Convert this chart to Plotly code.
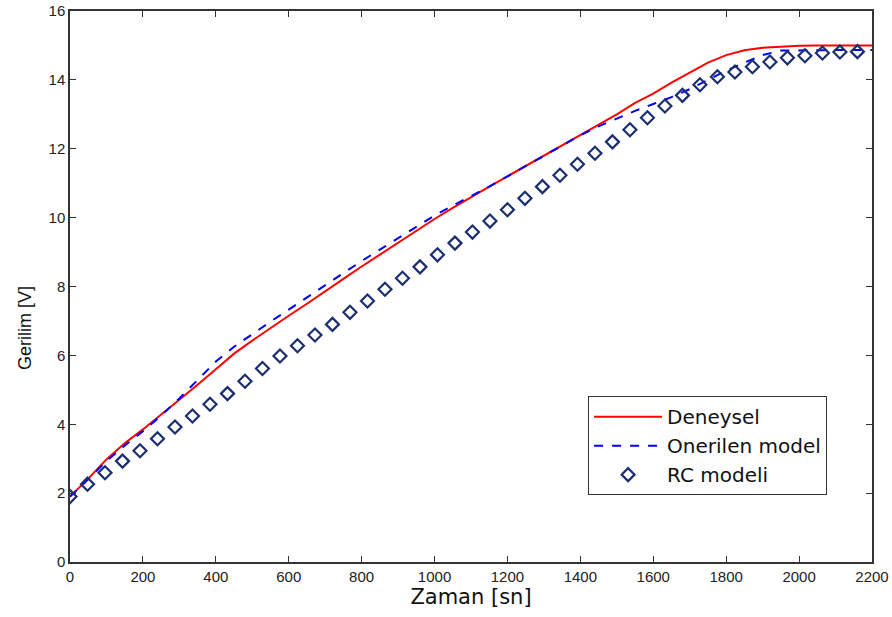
import plotly.graph_objects as go

# Line data (time in s, voltage in V)
t_line = [0, 50, 100, 150, 200, 250, 300, 350, 400, 450, 500, 550, 600, 650, 700,
          750, 800, 850, 900, 950, 1000, 1050, 1100, 1150, 1200, 1250, 1300, 1350,
          1400, 1450, 1500, 1550, 1600, 1650, 1700, 1750, 1800, 1850, 1900, 1950,
          2000, 2050, 2100, 2150, 2200]

deneysel = [1.90, 2.42, 2.98, 3.45, 3.85, 4.28, 4.72, 5.15, 5.60, 6.05, 6.43, 6.80,
            7.15, 7.50, 7.87, 8.22, 8.58, 8.93, 9.28, 9.63, 9.96, 10.28, 10.60, 10.90,
            11.20, 11.50, 11.80, 12.10, 12.40, 12.70, 13.00, 13.33, 13.60, 13.92, 14.20,
            14.50, 14.72, 14.86, 14.93, 14.97, 14.99, 15.00, 15.00, 15.00, 15.00]

onerilen = [1.90, 2.40, 2.93, 3.38, 3.80, 4.25, 4.75, 5.28, 5.82, 6.25, 6.62, 6.98,
            7.33, 7.68, 8.03, 8.40, 8.74, 9.07, 9.40, 9.73, 10.06, 10.35, 10.62, 10.90,
            11.20, 11.50, 11.80, 12.10, 12.39, 12.65, 12.88, 13.10, 13.30, 13.50, 13.73,
            14.00, 14.27, 14.50, 14.72, 14.85, 14.86, 14.87, 14.87, 14.87, 14.87]

t_rc = [0, 48, 96, 144, 192, 240, 288, 336, 384, 432, 480, 528, 576, 624, 672, 720,
        768, 816, 864, 912, 960, 1008, 1056, 1104, 1152, 1200, 1248, 1296, 1344, 1392,
        1440, 1488, 1536, 1584, 1632, 1680, 1728, 1776, 1824, 1872, 1920, 1968, 2016,
        2064, 2112, 2160]

rc_model = [1.90, 2.26, 2.59, 2.93, 3.23, 3.58, 3.92, 4.24, 4.58, 4.89, 5.25, 5.62,
            5.98, 6.28, 6.59, 6.90, 7.25, 7.58, 7.92, 8.24, 8.57, 8.92, 9.26, 9.58,
            9.90, 10.23, 10.56, 10.90, 11.23, 11.55, 11.87, 12.20, 12.55, 12.90, 13.24,
            13.55, 13.86, 14.09, 14.23, 14.38, 14.52, 14.64, 14.70, 14.78, 14.81, 14.82]

x_ticks = [0, 200, 400, 600, 800, 1000, 1200, 1400, 1600, 1800, 2000, 2200]
y_ticks = [0, 2, 4, 6, 8, 10, 12, 14, 16]

FONT = "Liberation Sans, Arial, sans-serif"
WIDE = "DejaVu Sans, Verdana, sans-serif"
AXC = "#333333"

fig = go.Figure()
fig.add_trace(go.Scatter(x=t_line, y=deneysel, mode="lines", name="Deneysel",
                         line=dict(color="#ff0000", width=2)))
fig.add_trace(go.Scatter(x=t_line, y=onerilen, mode="lines", name="Onerilen model",
                         line=dict(color="#0000ff", width=2, dash="dash")))
fig.add_trace(go.Scatter(x=t_rc, y=rc_model, mode="markers", name="RC modeli",
                         marker=dict(symbol="diamond-open", size=10, color="#1b2f70",
                                     line=dict(width=2.2, color="#1b2f70"))))

fig.update_layout(
    width=892, height=617,
    margin=dict(l=70, r=20, t=11, b=55, autoexpand=False),
    paper_bgcolor="white", plot_bgcolor="white",
    font=dict(family=FONT, color="#222222", size=13),
    showlegend=True,
    legend=dict(x=0.646, y=0.301, xanchor="left", yanchor="top",
                bgcolor="white", bordercolor=AXC, borderwidth=1,
                font=dict(size=20, family=WIDE, color="#111111"),
                tracegroupgap=0, itemwidth=68),
    annotations=[dict(text="Gerilim [V]", textangle=-90, xref="paper", yref="paper",
                      x=-0.056, y=0.425, xanchor="center", yanchor="middle",
                      showarrow=False, font=dict(size=18, family=FONT, color="#111111"))],
)
fig.update_xaxes(range=[0, 2200], tickvals=x_ticks, ticktext=[str(v) for v in x_ticks],
                 showgrid=False, zeroline=False, showline=True, linecolor=AXC,
                 linewidth=1.5, mirror="ticks", ticks="inside", ticklen=6,
                 tickcolor=AXC, tickfont=dict(size=15), automargin=False,
                 title=dict(text="Zaman [sn]", font=dict(size=21, family=WIDE, color="#111111"),
                            standoff=3))
fig.update_yaxes(range=[0, 16], tickvals=y_ticks, ticktext=[str(v) for v in y_ticks],
                 showgrid=False, zeroline=False, showline=True, linecolor=AXC,
                 linewidth=1.5, mirror="ticks", ticks="inside", ticklen=6,
                 tickcolor=AXC, tickfont=dict(size=15), automargin=False)

fig.write_html("out.html", config={"displayModeBar": False},
               post_script="document.body.style.margin='0';")
